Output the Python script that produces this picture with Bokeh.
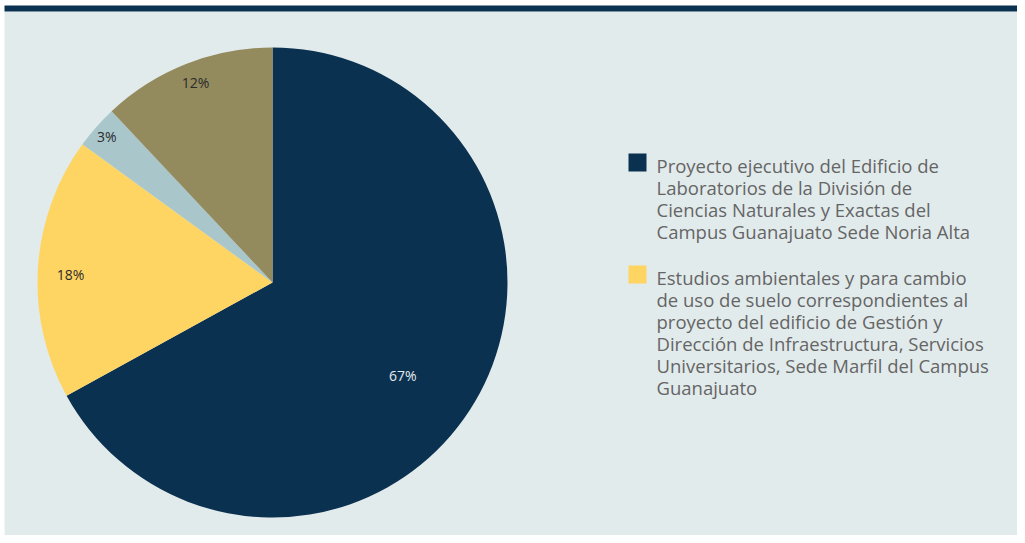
import math
from bokeh.plotting import figure
from bokeh.models import Range1d, ColumnDataSource
from bokeh.core.properties import value
from bokeh.embed import file_html
from bokeh.resources import INLINE

# ---- data ----
categories = [
    "Proyecto ejecutivo del Edificio de\nLaboratorios de la División de\nCiencias Naturales y Exactas del\nCampus Guanajuato Sede Noria Alta",
    "Estudios ambientales y para cambio\nde uso de suelo correspondientes al\nproyecto del edificio de Gestión y\nDirección de Infraestructura, Servicios\nUniversitarios, Sede Marfil del Campus\nGuanajuato",
    "",
    "",
]
shares = [67, 18, 3, 12]
pct_labels = ["67%", "18%", "3%", "12%"]
in_legend = [True, True, False, False]

# ---- style ----
colors = ["#0b3150", "#fed462", "#a9c7cb", "#938a5e"]
label_colors = ["#e4eaee", "#2b2b2b", "#2b2b2b", "#2b2b2b"]
label_rfrac = [0.68, 0.86, 0.94, 0.91]
label_dangle = [-4.8, 1.3, 0.0, -0.5]   # degrees, label placement tweak
BG = "#e2ebec"
NAVY = "#0b3150"
FONT = "Open Sans"
W, H = 1017, 535
cx, cy, R = 272, 253, 235

p = figure(width=W, height=H, output_backend="svg", toolbar_location=None,
           x_range=Range1d(0, W), y_range=Range1d(0, H), min_border=0,
           background_fill_color="white", border_fill_color="white",
           outline_line_color=None)
p.axis.visible = False
p.grid.visible = False

# panel background and top dark band
p.quad(left=[4], right=[W], bottom=[-5], top=[H - 11], color=BG, line_color=None)
p.quad(left=[4], right=[W], bottom=[H - 11], top=[H - 5], color=NAVY, line_color=None)

total = float(sum(shares))
starts, ends = [], []
acc = 0.0
for s in shares:
    a0 = math.pi / 2 - 2 * math.pi * acc / total
    acc += s
    a1 = math.pi / 2 - 2 * math.pi * acc / total
    starts.append(a1)
    ends.append(a0)

src = ColumnDataSource(dict(x=[cx] * len(shares), y=[cy] * len(shares),
                            start=starts, end=ends, color=colors))
p.wedge(x="x", y="y", radius=R, start_angle="start", end_angle="end",
        fill_color="color", line_color=None, source=src)

lx, ly = [], []
for i in range(len(shares)):
    mid = (starts[i] + ends[i]) / 2 + math.radians(label_dangle[i])
    rr = R * label_rfrac[i]
    lx.append(cx + rr * math.cos(mid))
    ly.append(cy + rr * math.sin(mid))
p.text(x=lx, y=ly, text=pct_labels, text_color=label_colors,
       text_align="center", text_baseline="middle",
       text_font=value(FONT), text_font_size="14px")

# ---- legend (drawn manually so the swatch aligns with the first line) ----
LINE = 22.5
GAP = 22
FS = 18.5
sw_x, txt_x = 637, 656
top = H - 152
leg_sx, leg_sy, leg_c, leg_tx, leg_ty, leg_t = [], [], [], [], [], []
for i in range(len(shares)):
    if not in_legend[i]:
        continue
    leg_sx.append(sw_x)
    leg_sy.append(top - 10)
    leg_c.append(colors[i])
    leg_tx.append(txt_x)
    leg_ty.append(top)
    leg_t.append(categories[i])
    top -= categories[i].count("\n") * LINE + LINE + GAP

p.rect(x=leg_sx, y=leg_sy, width=18, height=18, fill_color=leg_c, line_color=None)
p.text(x=leg_tx, y=leg_ty, text=leg_t, text_color="#656565",
       text_align="left", text_baseline="top", text_line_height=LINE / (FS * 1.37),
       text_font=value(FONT), text_font_size=f"{FS}px")

open("out.html", "w").write(file_html(p, INLINE))
